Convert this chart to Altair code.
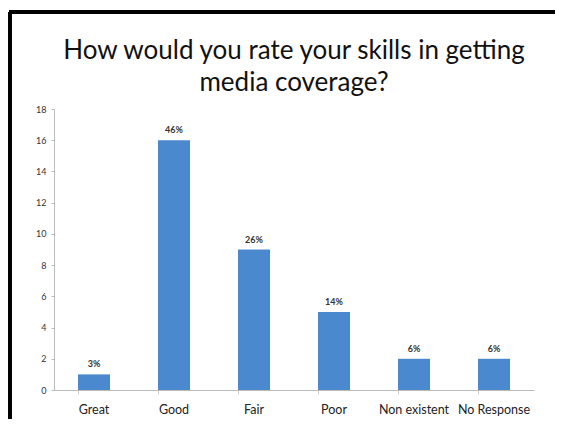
import altair as alt
import pandas as pd

categories = ["Great", "Good", "Fair", "Poor", "Non existent", "No Response"]
counts = [1, 16, 9, 5, 2, 2]
pct_labels = ["3%", "46%", "26%", "14%", "6%", "6%"]
y_ticks = [0, 2, 4, 6, 8, 10, 12, 14, 16, 18]

df = pd.DataFrame({"category": categories, "count": counts, "label": pct_labels})

FONT = "Lato"

x_enc = alt.X("category:N", sort=categories, title=None,
              scale=alt.Scale(paddingInner=0.6, paddingOuter=0.3),
              axis=alt.Axis(labelAngle=0, labelFontSize=12.5, labelColor="#222222",
                            labelFont=FONT, labelPadding=9, domainColor="#bbbbbb",
                            ticks=True, bandPosition=0, tickSize=4, tickColor="#cccccc",
                            labelOverlap=False))
y_enc = alt.Y("count:Q", title=None,
              scale=alt.Scale(domain=[0, 18], nice=False),
              axis=alt.Axis(values=y_ticks, grid=False, labelFontSize=9,
                            labelColor="#333333", labelFont=FONT, domainColor="#bbbbbb",
                            tickColor="#bbbbbb", tickSize=3, labelPadding=5,
                            labelOverlap=False))

bars = alt.Chart(df).mark_bar(color="#4b89cf").encode(x=x_enc, y=y_enc)

text = alt.Chart(df).mark_text(dy=-10, fontSize=9, fontWeight="bold", color="#333333",
                               font=FONT).encode(
    x=x_enc,
    y=y_enc,
    text="label:N",
)

left_border = alt.Chart(df).mark_rule(color="black", strokeWidth=3).encode(
    x=alt.value(-44), y=alt.value(-97), y2=alt.value(330))
top_border = alt.Chart(df).mark_rule(color="black", strokeWidth=3).encode(
    x=alt.value(-45), x2=alt.value(530), y=alt.value(-97))

chart = alt.layer(bars, text, left_border, top_border).properties(
    width=480, height=281,
    autosize=alt.AutoSizeParams(type="none"),
    padding={"left": 46, "top": 101, "right": 21, "bottom": 29},
    title=alt.TitleParams(
        text=["How would you rate your skills in getting", "media coverage?"],
        fontSize=26, font=FONT, fontWeight="normal", color="#111111",
        anchor="middle", offset=-111, lineHeight=32, baseline="bottom",
    ),
).configure(background="white").configure_view(strokeWidth=0)

chart.save("out.html", embed_options={"renderer": "svg", "actions": False})
